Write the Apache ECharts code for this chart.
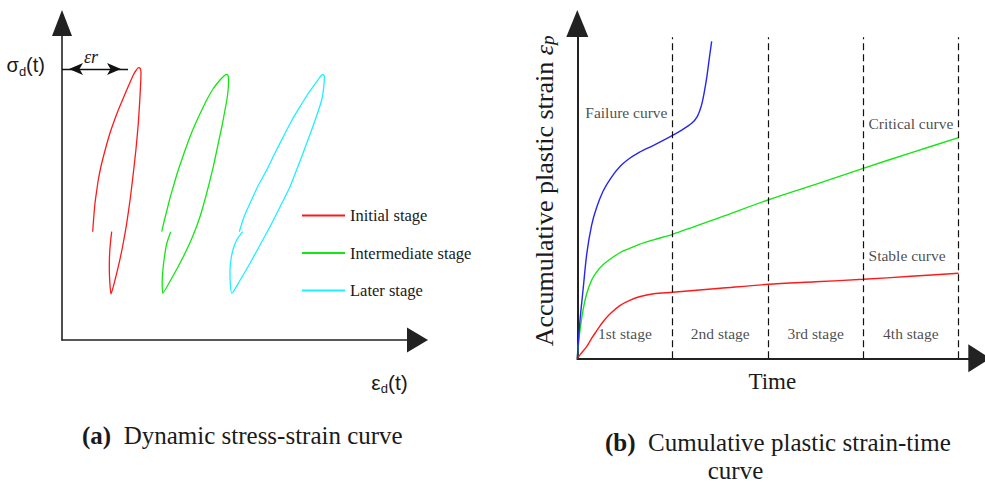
<!DOCTYPE html>
<html>
<head>
<meta charset="utf-8">
<script src="https://cdn.jsdelivr.net/npm/echarts@6/dist/echarts.min.js"></script>
<style>
  html, body { margin: 0; padding: 0; background: #ffffff; }
  #chart { width: 985px; height: 489px; }
</style>
</head>
<body>
<div id="chart"></div>
<script>
// ---- Panel (a): dynamic stress-strain hysteresis loops [strain, stress] ----
const initialLoop = [
  [30.7,108.3],[31.7,122],[33,137],[34.5,148],[36.3,160],[38.6,172],[41.3,183],[44.5,195],
  [48,207],[52,218.5],[56.3,230],[60.5,240],[64.7,250],[68.2,258],[71.3,265],[74,269.5],
  [76.5,272.3],[78.3,271.5],[79,267],[78.8,260],[77.8,240],[76.3,216.7],[74,191],
  [71.3,166.7],[68.2,141],[64.7,116.7],[60.7,94],[56.3,73.3],[52.5,58],[49,46],
  [47.8,58],[47.3,72],[47.6,86],[48.5,98],[49.7,108.3]
];
const intermediateLoop = [
  [99.7,108.3],[102.2,119],[105,130],[108,142],[111.3,153.3],[115,166],[119,178],
  [123.5,191],[128,203.3],[132,213],[136,222],[140.3,231],[144.7,240],[151,251],
  [158,260],[161.5,263.5],[164,265.7],[165.8,265],[166.5,261],[166.3,252],[165,241],
  [163,230],[160.2,215],[157,200],[151.3,173.3],[145,148],[138,123.3],[130,102],
  [121.3,83.3],[111,64],[100.7,46.7],[100.2,58],[100.9,70],[102.3,82],[104.2,94],
  [106.3,101.5],[108.7,108.3]
];
const laterLoop = [
  [177.3,108.3],[182,123],[188,136.7],[196,154],[204.7,170],[213,187],[221.3,203.3],
  [229.5,219],[238,233.3],[246.5,247],[254.7,258.3],[258.5,263.5],[260.8,265.7],[262.3,264],
  [262.2,258],[259.7,240],[252.5,218],[244.7,196.7],[236.5,175],[228,153.3],[218,133],
  [208,113.3],[198,95],[188,76.7],[178.5,60.5],[169.7,46.7],[168.2,58],[168,70],
  [169.2,82],[171.5,92],[175,100.5],[180.7,108.3]
];
const loopNames = ['Initial stage', 'Intermediate stage', 'Later stage'];
const residualStrain = 66;   // ε_r, strain offset of the first loop peak
const peakStress = 271;      // stress level where ε_r is marked

// ---- Panel (b): accumulative plastic strain vs time (time in stages) ----
const stableCurve = [
  [0,0],[0.05,6],[0.1,12],[0.15,20],[0.2,27],[0.27,36.5],[0.35,45],[0.45,53],[0.55,58],
  [0.65,61.5],[0.8,64.5],[1,66],[1.5,70],[2,74],[2.5,76.5],[3,79],[3.5,82],[4,85]
];
const criticalCurve = [
  [0,0],[0.01,12],[0.028,28],[0.06,48],[0.1,65],[0.15,78],[0.2,86],[0.27,93.5],[0.35,99.5],
  [0.45,105.8],[0.55,110],[0.65,114],[0.8,118.5],[1,124],[1.5,141],[2,158.3],[2.5,174],
  [3,190],[3.5,205.5],[4,220.6]
];
const failureCurve = [
  [0,0],[0.01,15],[0.03,40],[0.06,68],[0.1,105],[0.15,133],[0.2,150],[0.27,167],[0.35,180],
  [0.45,192],[0.55,200],[0.65,206],[0.8,213],[1,223],[1.1,228.5],[1.2,235],[1.26,242],
  [1.3,252],[1.33,265],[1.36,282],[1.385,300],[1.41,317]
];
const curveNames = ['Stable curve', 'Critical curve', 'Failure curve'];
const stageBounds = [1, 2, 3, 4];
const stageNames = ['1st stage', '2nd stage', '3rd stage', '4th stage'];

const SERIF = 'Liberation Serif, Times New Roman, serif';
const SANS = 'Liberation Sans Narrow, Liberation Sans, Arial, sans-serif';
const INK = '#1a1a1a';

const chart = echarts.init(document.getElementById('chart'), null, { renderer: 'svg' });

function plainAxis(extra) {
  return Object.assign({
    type: 'value',
    axisTick: { show: false },
    axisLabel: { show: false },
    splitLine: { show: false }
  }, extra);
}

function axisLine(size, width) {
  return {
    show: true, onZero: false,
    symbol: ['none', 'triangle'], symbolSize: size,
    lineStyle: { color: '#222', width: width }
  };
}

const loopColors = ['#ff1a1a', '#14e614', '#1ff0ff'];
const curveColors = ['#ff1a1a', '#14e614', '#2626f0'];
const dashTop = 321;     // upper end of the stage separators
const stageLabelY = 25;  // height of the stage captions

const option = {
  animation: false,
  backgroundColor: '#ffffff',
  textStyle: { fontFamily: SERIF, color: INK },
  grid: [
    { left: 62, right: 567.5, top: 23, bottom: 149 },
    { left: 577.3, right: 5.7, top: 23.5, bottom: 130.7 }
  ],
  xAxis: [
    plainAxis({
      gridIndex: 0, min: 0, max: 355.5,
      axisLine: axisLine([25, 21], 1.6),
      name: '{m|ε}{s|d}{m|(t)}', nameLocation: 'end', nameGap: -28,
      nameTextStyle: {
        align: 'center', verticalAlign: 'top', padding: [29, 0, 0, 0],
        rich: {
          m: { fontFamily: SANS, fontSize: 21, color: INK, lineHeight: 26, verticalAlign: 'middle' },
          s: { fontFamily: SANS, fontSize: 13, color: INK, lineHeight: 13, verticalAlign: 'bottom' }
        }
      }
    }),
    plainAxis({
      gridIndex: 1, min: 0, max: 4.218,
      axisLine: axisLine([28, 22], 2),
      name: 'Time', nameLocation: 'middle', nameGap: 12,
      nameTextStyle: { fontFamily: SERIF, fontSize: 23, color: INK, padding: [0, 12, 0, 0] }
    })
  ],
  yAxis: [
    plainAxis({
      gridIndex: 0, min: 0, max: 317,
      axisLine: axisLine([20, 26], 1.6),
      name: '{m|σ}{s|d}{m|(t)}', nameLocation: 'end', nameGap: -42,
      nameTextStyle: {
        align: 'right', verticalAlign: 'middle', padding: [0, 17, 0, 0],
        rich: {
          m: { fontFamily: SANS, fontSize: 20, color: INK, lineHeight: 26, verticalAlign: 'middle' },
          s: { fontFamily: SANS, fontSize: 13, color: INK, lineHeight: 13, verticalAlign: 'bottom' }
        }
      }
    }),
    plainAxis({
      gridIndex: 1, min: 0, max: 334.8,
      axisLine: axisLine([22, 27], 2),
      name: 'Accumulative plastic strain {e|ε}{p|p}', nameLocation: 'middle', nameGap: 20,
      nameRotate: 90,
      nameTextStyle: {
        fontFamily: SERIF, fontSize: 26, color: INK,
        rich: {
          e: { fontFamily: SERIF, fontSize: 26, fontStyle: 'italic', color: INK },
          p: { fontFamily: SERIF, fontSize: 19, fontStyle: 'italic', color: INK, padding: [6, 0, 0, 0] }
        }
      }
    })
  ],
  legend: {
    data: loopNames,
    orient: 'vertical',
    left: 297, top: 202,
    itemWidth: 43, itemHeight: 14, itemGap: 20.5,
    icon: 'path://M0,6 L43,6 L43,8 L0,8 Z',
    selectedMode: false,
    textStyle: { fontFamily: SERIF, fontSize: 16.5, color: INK, lineHeight: 16 }
  },
  series: [
    ...[initialLoop, intermediateLoop, laterLoop].map((loop, i) => ({
      name: loopNames[i], type: 'line', xAxisIndex: 0, yAxisIndex: 0,
      data: loop, symbol: 'none', smooth: 0.2, silent: true,
      color: loopColors[i],
      lineStyle: { color: loopColors[i], width: 1.3 },
      markLine: i === 0 ? {
        silent: true,
        symbol: ['arrow', 'arrow'], symbolSize: [9, 14], symbolOffset: [[0, 7], [0, 7]],
        lineStyle: { color: '#111', width: 1.3, type: 'solid' },
        label: {
          show: true, position: 'middle', formatter: 'εr', distance: 3,
          fontFamily: SERIF, fontStyle: 'italic', fontSize: 18, color: INK, padding: [0, 8, 0, 0]
        },
        data: [[{ coord: [0, peakStress] }, { coord: [residualStrain, peakStress] }]]
      } : undefined
    })),
    ...[stableCurve, criticalCurve, failureCurve].map((curve, i) => ({
      name: curveNames[i], type: 'line', xAxisIndex: 1, yAxisIndex: 1,
      data: curve, symbol: 'none', smooth: 0.3, silent: true,
      color: curveColors[i],
      lineStyle: { color: curveColors[i], width: 1.4 },
      z: 3,
      markLine: i === 0 ? {
        silent: true, symbol: 'none',
        lineStyle: { color: '#111', width: 1.2, type: [7, 4] },
        label: { show: false },
        data: stageBounds.map(b => [{ coord: [b, 0] }, { coord: [b, dashTop] }])
      } : undefined
    })),
    {
      // stage captions along the time axis
      name: 'stages', type: 'scatter', xAxisIndex: 1, yAxisIndex: 1,
      symbol: 'circle', symbolSize: 1, silent: true,
      itemStyle: { color: 'rgba(0,0,0,0)' },
      data: stageNames.map((t, i) => [i + 0.5, stageLabelY, t]),
      label: {
        show: true, position: 'inside', formatter: p => p.value[2],
        fontFamily: SERIF, fontSize: 15.5, color: INK
      }
    },
    {
      // curve captions
      name: 'curve labels', type: 'scatter', xAxisIndex: 1, yAxisIndex: 1,
      symbol: 'circle', symbolSize: 1, silent: true,
      itemStyle: { color: 'rgba(0,0,0,0)' },
      data: [[0.515, 246, curveNames[2]], [3.5, 235, curveNames[1]], [3.46, 103, curveNames[0]]],
      label: {
        show: true, position: 'inside', formatter: p => p.value[2],
        fontFamily: SERIF, fontSize: 15.5, color: INK
      }
    }
  ],
  graphic: [
    {
      type: 'text', x: 82, y: 435.5, silent: true,
      style: {
        text: '{b|(a)}  Dynamic stress-strain curve',
        fontSize: 25, fontFamily: SERIF, fill: INK, verticalAlign: 'middle',
        rich: { b: { fontWeight: 'bold', fontFamily: SERIF, fontSize: 25, fill: INK } }
      }
    },
    {
      type: 'text', x: 605, y: 442, silent: true,
      style: {
        text: '{b|(b)}  Cumulative plastic strain-time',
        fontSize: 25, fontFamily: SERIF, fill: INK, verticalAlign: 'middle',
        rich: { b: { fontWeight: 'bold', fontFamily: SERIF, fontSize: 25, fill: INK } }
      }
    },
    {
      type: 'text', x: 735.5, y: 470, silent: true,
      style: { text: 'curve', fontSize: 25, fontFamily: SERIF, fill: INK, align: 'center', verticalAlign: 'middle' }
    }
  ]
};

chart.setOption(option);
</script>
</body>
</html>
